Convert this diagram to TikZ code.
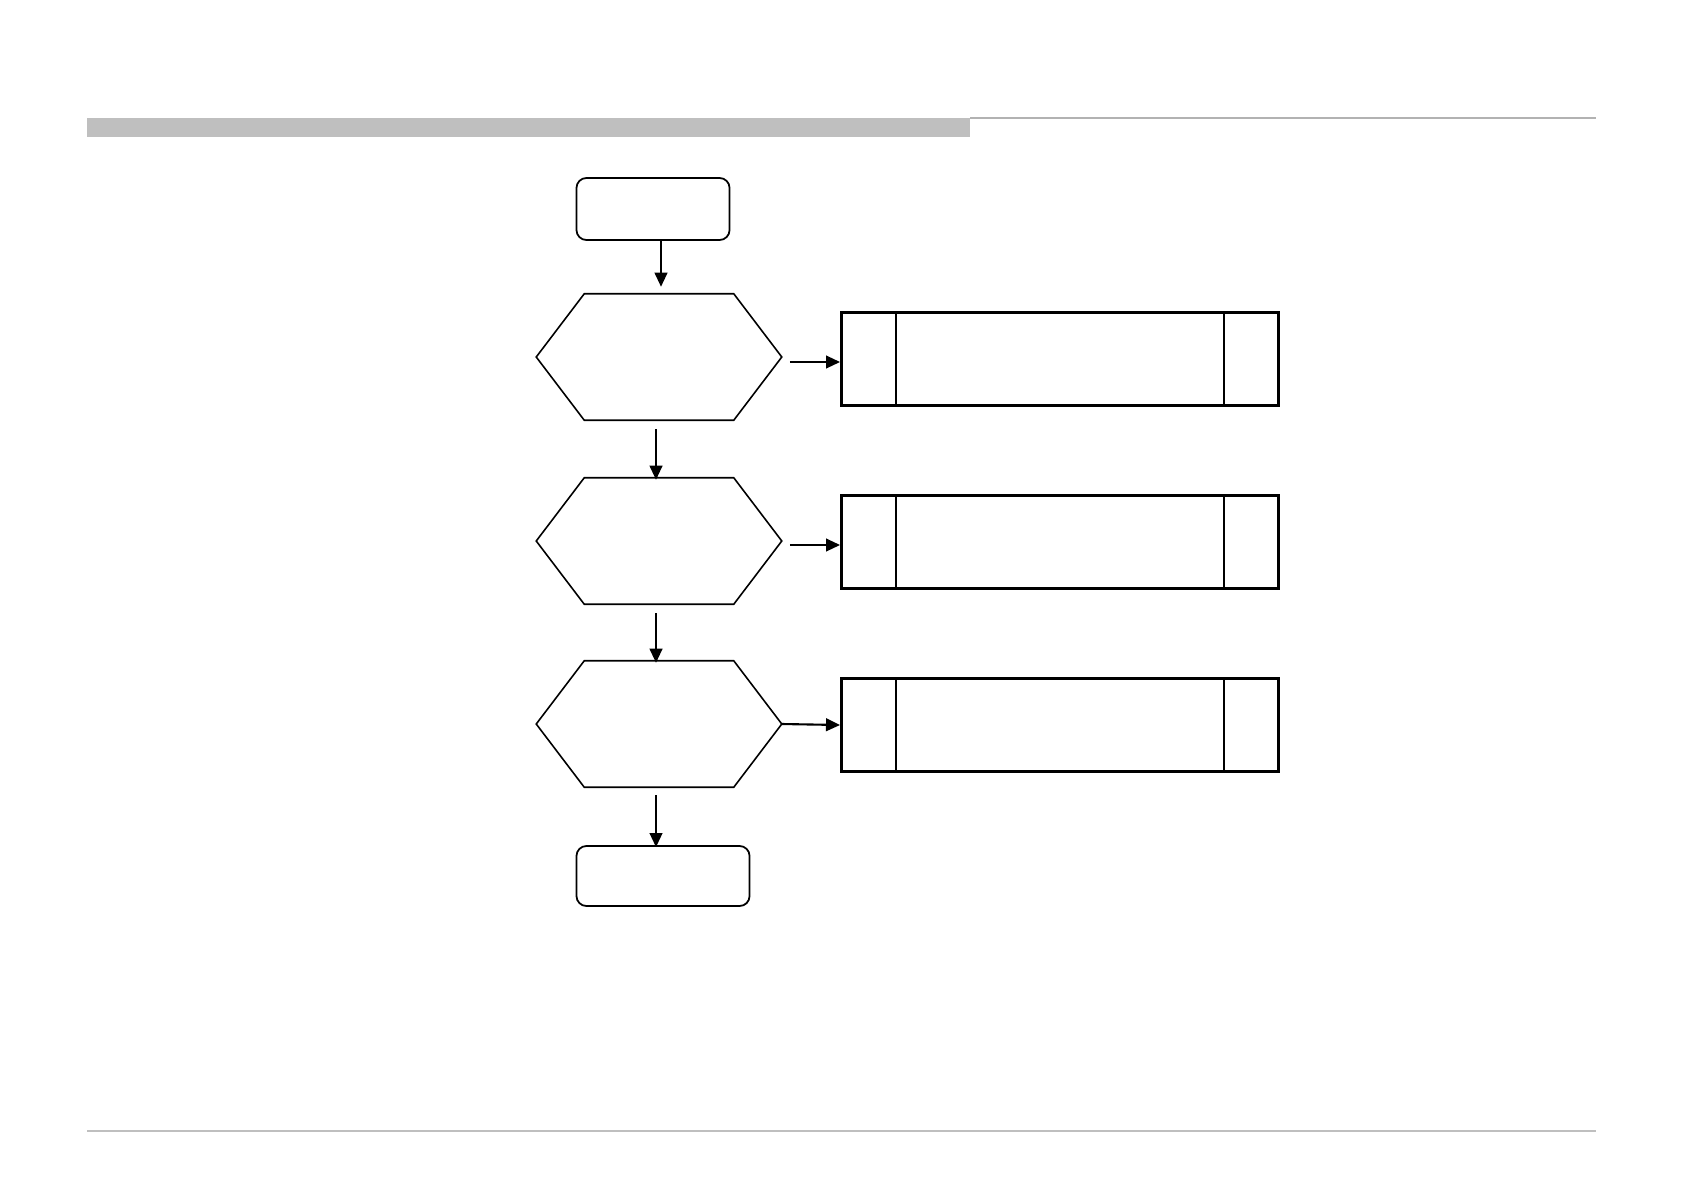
\documentclass[tikz,border=0pt]{standalone}
\usetikzlibrary{shapes,arrows,arrows.meta,positioning}

\begin{document}
\begin{tikzpicture}[
        x=0.01cm, y=-0.01cm,
        term/.style={
            rectangle,
            draw,
            rounded corners=1mm,
            line width=0.5pt,
            inner sep=0pt
        },
        decision/.style={
            rectangle,
            minimum width=2.44cm,
            minimum height=1.25cm,
            inner sep=0pt
        },
        action/.style={
            rectangle,
            draw,
            line width=0.75pt,
            minimum width=4.37cm,
            minimum height=0.93cm,
            inner sep=0pt
        },
        line/.style={draw, -{Triangle[length=4pt,width=3.6pt]}, line width=0.6pt}
    ]
        \useasboundingbox (0,0) rectangle (1683,1191);

        % -- Naglowek i stopka --
        \fill [black!25] (87,118) rectangle (970,137);
        \draw [black!30, line width=0.4pt] (970,118) -- (1596,118);
        \draw [black!25, line width=0.5pt] (87,1131) -- (1596,1131);

        % -- Wezly --
        \node [term, minimum width=1.53cm, minimum height=0.62cm] (start) at (653,209) {};
        \node [decision] (check1) at (659,357) {};
        \node [decision] (check2) at (659,541) {};
        \node [decision] (check3) at (659,724) {};
        \node [term, minimum width=1.73cm, minimum height=0.60cm] (stop) at (663,876) {};

        \node [action] (fix1) at (1060,359) {};
        \node [action] (fix2) at (1060,542) {};
        \node [action] (fix3) at (1060,725) {};

        % szesciokaty
        \foreach \n in {check1,check2,check3} {
            \draw [line width=0.45pt] ([xshift=0.48cm]\n.north west) -- ([xshift=-0.48cm]\n.north east)
                -- (\n.east) -- ([xshift=-0.48cm]\n.south east) -- ([xshift=0.48cm]\n.south west)
                -- (\n.west) -- cycle;
        }

        % podzialy w prostokatach
        \foreach \n in {fix1,fix2,fix3} {
            \draw [line width=0.45pt] ([xshift=0.56cm]\n.north west) -- ([xshift=0.56cm]\n.south west);
            \draw [line width=0.45pt] ([xshift=-0.56cm]\n.north east) -- ([xshift=-0.56cm]\n.south east);
        }

        % -- Sciezki --
        \path [line, shorten >=0.07cm] ([xshift=0.02cm]start.south -| check1.north) -- ([xshift=0.02cm]check1.north);
        \path [line, shorten <=0.09cm, shorten >=-0.02cm] ([xshift=-0.03cm]check1.south) -- ([xshift=-0.03cm]check2.north);
        \path [line, shorten <=0.09cm, shorten >=-0.02cm] ([xshift=-0.03cm]check2.south) -- ([xshift=-0.03cm]check3.north);
        \path [line, shorten <=0.08cm, shorten >=-0.02cm] ([xshift=-0.03cm]check3.south) -- ([xshift=-0.03cm]stop.north -| check3.south);

        \path [line, shorten <=0.08cm] ([yshift=-0.03cm]check1.east |- fix1.west) -- ([yshift=-0.03cm]fix1.west);
        \path [line, shorten <=0.08cm] ([yshift=-0.03cm]check2.east |- fix2.west) -- ([yshift=-0.03cm]fix2.west);
        \path [line] (check3.east) -- (fix3.west);

    \end{tikzpicture}
\end{document}
